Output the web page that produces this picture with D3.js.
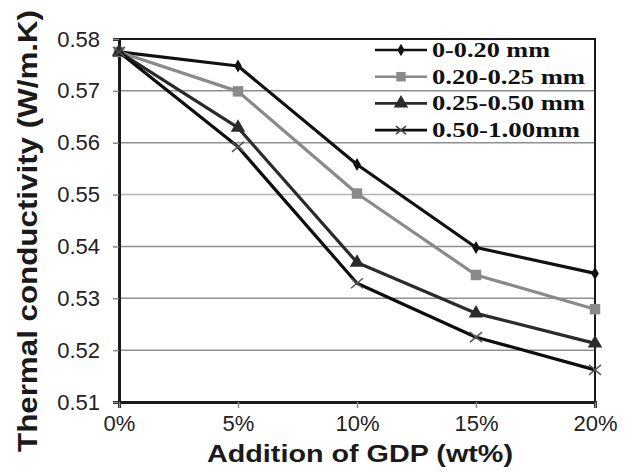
<!DOCTYPE html>
<html>
<head>
<meta charset="utf-8">
<script src="https://cdn.jsdelivr.net/npm/d3@7"></script>
<style>
  body { margin: 0; background: #fff; }
</style>
</head>
<body>
<div id="container"></div>
<script>
// data
const gdp = [0, 5, 10, 15, 20];
const sizes = ["0-0.20 mm", "0.20-0.25 mm", "0.25-0.50 mm", "0.50-1.00mm"];
const s1 = [0.5775, 0.5748, 0.5558, 0.5398, 0.5348];
const s2 = [0.5775, 0.5699, 0.5502, 0.5345, 0.5279];
const s3 = [0.5775, 0.5629, 0.5369, 0.5271, 0.5213];
const s4 = [0.5775, 0.5592, 0.5329, 0.5225, 0.5162];
const yTicks = [0.51, 0.52, 0.53, 0.54, 0.55, 0.56, 0.57, 0.58];

const width = 628, height = 472,
  margin = { top: 39, right: 33, bottom: 70, left: 119 };

const series = [
  { name: sizes[0], values: s1, color: "#111", marker: "diamond", len: 118 },
  { name: sizes[1], values: s2, color: "#8a8a8a", marker: "square", len: 153 },
  { name: sizes[2], values: s3, color: "#2b2b2b", marker: "triangle", len: 153 },
  { name: sizes[3], values: s4, color: "#0d0d0d", marker: "cross", len: 148 }
];

const svg = d3.select("#container").append("svg")
  .attr("width", width).attr("height", height);

const x = d3.scaleLinear().domain([0, 20]).range([margin.left, width - margin.right]);
const y = d3.scaleLinear().domain([0.51, 0.58]).range([height - margin.bottom, margin.top]);

// gridlines
svg.append("g")
  .selectAll("line")
  .data(yTicks.slice(1, -1))
  .join("line")
  .attr("x1", x(0)).attr("x2", x(20))
  .attr("y1", d => y(d)).attr("y2", d => y(d))
  .attr("stroke", (d, i) => (i === 3 ? "#b5b5b5" : "#8f8f8f"))
  .attr("stroke-width", 1.5);

// frame top/right
svg.append("path")
  .attr("d", `M${x(0)},${y(0.58)}H${x(20)}V${y(0.51)}`)
  .attr("fill", "none").attr("stroke", "#1a1a1a").attr("stroke-width", 2);

const yAxis = svg.append("g")
  .attr("transform", `translate(${x(0)},0)`)
  .call(d3.axisLeft(y).tickValues(yTicks).tickFormat(d3.format(".2f")).tickSize(6).tickPadding(13));
const xAxis = svg.append("g")
  .attr("transform", `translate(0,${y(0.51)})`)
  .call(d3.axisBottom(x).tickValues(gdp).tickFormat(d => d + "%").tickSize(6).tickPadding(7));

[yAxis, xAxis].forEach(a => {
  a.select(".domain").attr("stroke", "#1a1a1a").attr("stroke-width", 3);
  a.selectAll(".tick line").attr("stroke", "#888").attr("stroke-width", 1.5);
  a.selectAll("text")
    .attr("fill", "#222")
    .style("font-family", "Liberation Sans, Arial, sans-serif")
    .style("font-size", "22px");
});

function markerPath(type) {
  if (type === "diamond") return d3.symbol(d3.symbolDiamond, 50)();
  if (type === "square") return d3.symbol(d3.symbolSquare, 110)();
  if (type === "triangle") return d3.symbol(d3.symbolTriangle, 90)();
  return "M-6,-5L6,5M-6,5L6,-5";
}

const line = d3.line().x((d, i) => x(gdp[i])).y(d => y(d));

series.forEach(s => {
  const g = svg.append("g");
  g.append("path")
    .attr("d", line(s.values))
    .attr("fill", "none")
    .attr("stroke", s.color)
    .attr("stroke-width", 3.2)
    .attr("stroke-linejoin", "round");
  g.selectAll("path.mk")
    .data(s.values)
    .join("path")
    .attr("class", "mk")
    .attr("transform", (d, i) => `translate(${x(gdp[i])},${y(d)})`)
    .attr("d", markerPath(s.marker))
    .attr("fill", s.marker === "cross" ? "none" : s.color)
    .attr("stroke", s.marker === "cross" ? "#555" : "none")
    .attr("stroke-width", 1.5);
});

// legend
const legend = svg.append("g").attr("transform", "translate(375,50)");
series.forEach((s, i) => {
  const row = legend.append("g").attr("transform", `translate(0,${i * 26.7})`);
  row.append("line").attr("x1", 0).attr("x2", 52)
    .attr("stroke", s.color).attr("stroke-width", 2.6);
  row.append("path")
    .attr("transform", "translate(26,0)")
    .attr("d", s.marker === "cross" ? "M-5,-4L5,4M-5,4L5,-4" :
      d3.symbol(s.marker === "diamond" ? d3.symbolDiamond : s.marker === "square" ? d3.symbolSquare : d3.symbolTriangle,
        s.marker === "diamond" ? 45 : 90)())
    .attr("fill", s.marker === "cross" ? "none" : s.color)
    .attr("stroke", s.marker === "cross" ? "#444" : "none")
    .attr("stroke-width", 1.5);
  row.append("text")
    .attr("x", 57).attr("y", 7)
    .attr("textLength", s.len)
    .attr("lengthAdjust", "spacingAndGlyphs")
    .text(s.name)
    .attr("fill", "#111")
    .style("font-family", "Liberation Serif, Times New Roman, serif")
    .style("font-weight", "bold")
    .style("font-size", "20px");
});

// axis titles
svg.append("text")
  .attr("transform", "translate(37,231) rotate(-90)")
  .attr("text-anchor", "middle")
  .attr("textLength", 442)
  .attr("lengthAdjust", "spacingAndGlyphs")
  .text("Thermal conductivity (W/m.K)")
  .attr("fill", "#1a1a1a")
  .style("font-family", "Liberation Sans, Arial, sans-serif")
  .style("font-weight", "bold")
  .style("font-size", "28px");

svg.append("text")
  .attr("x", 360).attr("y", 462)
  .attr("text-anchor", "middle")
  .attr("textLength", 306)
  .attr("lengthAdjust", "spacingAndGlyphs")
  .text("Addition of GDP (wt%)")
  .attr("fill", "#1a1a1a")
  .style("font-family", "Liberation Sans, Arial, sans-serif")
  .style("font-weight", "bold")
  .style("font-size", "24px");
</script>
</body>
</html>
